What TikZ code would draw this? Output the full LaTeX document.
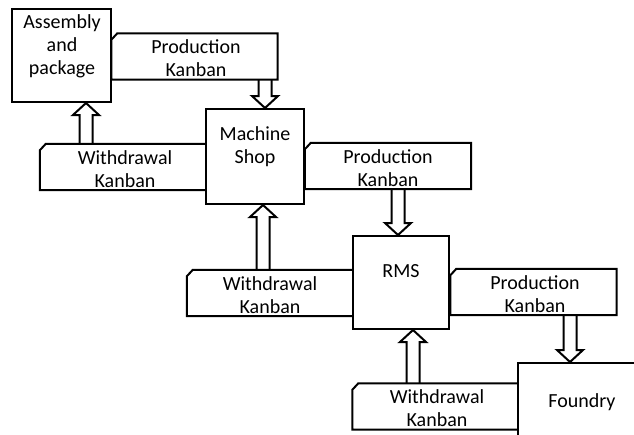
\documentclass[tikz,border=0pt]{standalone}
\usepackage{fontspec}
\setmainfont{Carlito}
\usetikzlibrary{calc}

\newcommand{\kanbanflow}[3]{%
  \coordinate (fs) at (#1,0 |- #2);
  \coordinate (ft) at (#1,0 |- #3);
  \coordinate (fb) at ($(ft)!12pt!(fs)$);
  \draw[flowline] ([xshift=-6.5pt]fs) -- ([xshift=-6.5pt]fb) -- ([xshift=-13pt]fb) -- (ft)
    -- ([xshift=13pt]fb) -- ([xshift=6.5pt]fb) -- ([xshift=6.5pt]fs);
}

\begin{document}
\begin{tikzpicture}[x=1pt, y=-1pt,
    process/.style={draw, line width=2pt, fill=white, inner sep=0pt,
      minimum width=98pt, minimum height=94pt},
    kanban/.style={fill=white, inner sep=0pt,
      minimum width=166pt, minimum height=46pt},
    flowline/.style={draw, line width=2pt},
    txt/.style={align=center, inner sep=0pt, font=\fontsize{20}{23}\selectfont}]
  \useasboundingbox (0,0) rectangle (634,434);

  \node[kanban] (pk1) at (194.5,56.5) {};
  \node[kanban] (wk1) at (123,167) {};
  \node[kanban] (pk2) at (388,166) {};
  \node[kanban] (wk2) at (270,293) {};
  \node[kanban] (pk3) at (533.5,292) {};
  \node[kanban] (wk3) at (435.5,406.5) {};
  \foreach \k in {pk1,wk1,pk2,wk2,pk3,wk3}
    \draw[line width=2pt] (\k.south west) -- ([yshift=-6.5pt]\k.north west)
      -- ([xshift=6pt]\k.north west) -- (\k.north east) -- (\k.south east) -- cycle;

  \node[process, minimum width=99pt, minimum height=93pt] (asm) at (61.5,55.5) {};
  \node[process, minimum height=95pt] (ms) at (255,156.5) {};
  \node[process, minimum width=96pt, minimum height=93pt] (rms) at (401,282.5) {};
  \node[process, minimum width=127pt, minimum height=82pt] (fdy) at (581.5,404) {};

  \node[txt] (asmt) at (62,46) {Assembly\\and\\package};
  \node[txt] (mst) at (255,146.5) {Machine\\Shop};
  \node[txt] (rmst) at (401,271.5) {RMS};
  \node[txt] (fdyt) at (582,402) {Foundry};

  \node[txt] (pk1t) at (196,58.5) {Production\\Kanban};
  \node[txt] (wk1t) at (125,169.5) {Withdrawal\\Kanban};
  \node[txt] (pk2t) at (388,168) {Production\\Kanban};
  \node[txt] (wk2t) at (270,295) {Withdrawal\\Kanban};
  \node[txt] (pk3t) at (535,294.5) {Production\\Kanban};
  \node[txt] (wk3t) at (437,408) {Withdrawal\\Kanban};

  \kanbanflow{265}{pk1.south}{ms.north}
  \kanbanflow{86}{wk1.north}{asm.south}
  \kanbanflow{398}{pk2.south}{rms.north}
  \kanbanflow{263}{wk2.north}{ms.south}
  \kanbanflow{570}{pk3.south}{fdy.north}
  \kanbanflow{413}{wk3.north}{rms.south}
\end{tikzpicture}
\end{document}
